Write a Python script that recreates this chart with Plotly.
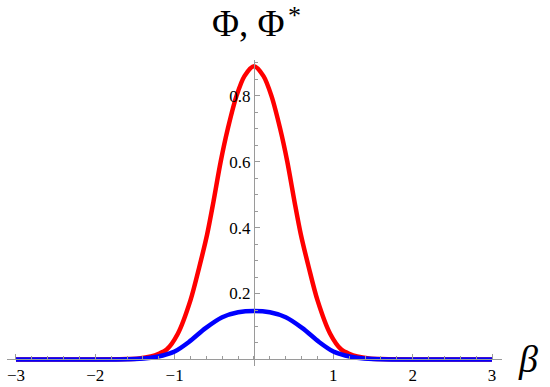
import plotly.graph_objects as go

# values
beta_red = [-3.0, -2.0, -1.6, -1.45, -1.3, -1.2, -1.1, -0.96, -0.8, -0.69, -0.59, -0.51, -0.42, -0.33, -0.22, -0.12, 0.0,
            0.12, 0.22, 0.33, 0.42, 0.51, 0.59, 0.69, 0.8, 0.96, 1.1, 1.2, 1.3, 1.45, 1.6, 2.0, 3.0]
phi_red = [0.0, 0.0, 0.001, 0.003, 0.009, 0.017, 0.03, 0.078, 0.18, 0.28, 0.38, 0.48, 0.6, 0.7, 0.8, 0.86, 0.89,
           0.86, 0.8, 0.7, 0.6, 0.48, 0.38, 0.28, 0.18, 0.078, 0.03, 0.017, 0.009, 0.003, 0.001, 0.0, 0.0]

beta_blue = [-3.0, -1.8, -1.5, -1.3, -1.15, -1.0, -0.82, -0.61, -0.4, -0.2, 0.0,
             0.2, 0.4, 0.61, 0.82, 1.0, 1.15, 1.3, 1.5, 1.8, 3.0]
phi_blue = [0.0, 0.0, 0.001, 0.005, 0.012, 0.024, 0.053, 0.095, 0.128, 0.143, 0.147,
            0.143, 0.128, 0.095, 0.053, 0.024, 0.012, 0.005, 0.001, 0.0, 0.0]

x_ticks = [-3, -2, -1, 1, 2, 3]
x_ticktext = ["\u22123", "\u22122", "\u22121", "1", "2", "3"]
y_ticks = [0.2, 0.4, 0.6, 0.8]
y_ticktext = ["0.2", "0.4", "0.6", "0.8"]

xr = [-3.113, 3.126]
yr = [-0.02, 0.909]
axis_gray = "#9a9a9a"
serif = "Liberation Serif"

fig = go.Figure()
fig.add_trace(go.Scatter(x=beta_red, y=phi_red, mode="lines",
                         line=dict(color="#ff0000", width=4.5, shape="spline", smoothing=0.8)))
fig.add_trace(go.Scatter(x=beta_blue, y=phi_blue, mode="lines",
                         line=dict(color="#0000ff", width=4.5, shape="spline", smoothing=0.8)))

fig.update_layout(
    width=550, height=387,
    margin=dict(l=7, r=48, t=60, b=21),
    plot_bgcolor="white", paper_bgcolor="white",
    showlegend=False,
    font=dict(family=serif, size=17, color="black"),
    xaxis=dict(range=xr, domain=[0, 1], anchor="free", position=-yr[0] / (yr[1] - yr[0]),
               automargin=False,
               showgrid=False, zeroline=False, showline=True, linecolor=axis_gray, linewidth=1,
               tickvals=x_ticks, ticktext=x_ticktext, ticks="inside", ticklen=5, tickcolor=axis_gray,
               minor=dict(ticks="inside", dtick=0.2, ticklen=3, tickcolor=axis_gray, showgrid=False),
               tickfont=dict(family=serif, size=17, color="black")),
    yaxis=dict(range=yr, domain=[0, 1], anchor="free", position=-xr[0] / (xr[1] - xr[0]),
               automargin=False,
               showgrid=False, zeroline=False, showline=True, linecolor=axis_gray, linewidth=1,
               tickvals=y_ticks, ticktext=y_ticktext, ticks="inside", ticklen=5, tickcolor=axis_gray,
               minor=dict(ticks="inside", dtick=0.05, ticklen=3, tickcolor=axis_gray, showgrid=False),
               tickfont=dict(family=serif, size=17, color="black")),
)

# axis titles drawn as annotations next to the axis ends
fig.add_annotation(x=0, y=1, xref="x", yref="paper", xshift=-5, yshift=14, text="\u03a6, \u03a6",
                   showarrow=False, xanchor="center", yanchor="bottom",
                   font=dict(family=serif, size=37, color="black"))
fig.add_annotation(x=0, y=1, xref="x", yref="paper", xshift=41, yshift=61, text="*",
                   showarrow=False, xanchor="center", yanchor="top",
                   font=dict(family=serif, size=26, color="black"))
fig.add_annotation(x=1, y=0, xref="paper", yref="y", xshift=14, text="<i>\u03b2</i>",
                   showarrow=False, xanchor="left", yanchor="middle",
                   font=dict(family=serif, size=38, color="black"))

# page has a default body margin; drop it so the figure sits at the window corner
fig.write_html("out.html", config={"displayModeBar": False},
               post_script="document.body.style.margin='0px';")
